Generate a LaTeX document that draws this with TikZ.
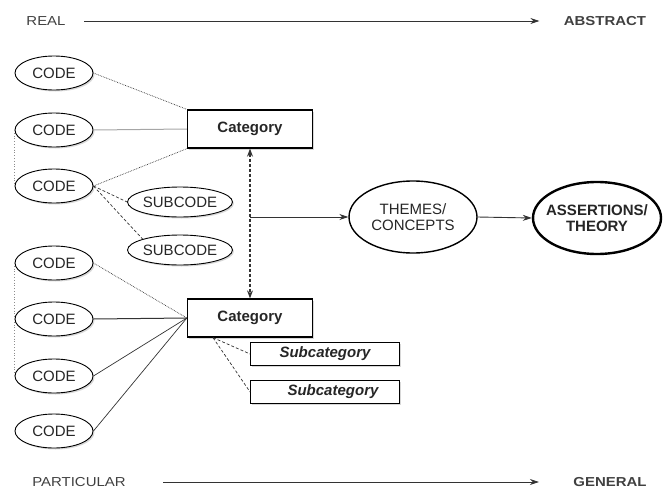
\documentclass[tikz,border=0pt]{standalone}
\usepackage{fontspec}
\setmainfont{Liberation Sans}
\newfontfamily\axisfont[FakeStretch=1.15]{Liberation Sans}
\usetikzlibrary{arrows.meta,shapes.geometric,shadows}

\tikzset{
  shade/.style={drop shadow={shadow xshift=1.5pt,shadow yshift=-1.5pt,fill=black!30}},
  codenode/.style={ellipse, draw, line width=0.9pt, fill=white, inner sep=0pt,
    minimum width=78pt, minimum height=34pt, text=black!85,
    font=\fontsize{15}{16}\selectfont, shade},
  subcodenode/.style={codenode, minimum width=96pt, minimum height=30pt},
  catbox/.style={rectangle, draw, line width=1.3pt, fill=white, minimum width=125pt,
    minimum height=38pt, text=black!85, font=\fontsize{15}{16}\selectfont\bfseries, shade},
  subcat/.style={rectangle, draw, line width=0.8pt, fill=white, minimum width=149pt,
    minimum height=23pt, text=black!85, font=\fontsize{15}{16}\selectfont\bfseries\itshape, shade},
  idea/.style={ellipse, draw, line width=1.4pt, fill=white, inner sep=0pt, align=center,
    minimum width=128pt, minimum height=72pt, text=black!85, font=\fontsize{15}{16}\selectfont},
  axislabel/.style={text=black!75, font=\axisfont\fontsize{13}{15}\selectfont},
  link/.style={line width=0.7pt, black!80},
  tip/.style={-{Stealth[length=9pt,width=6pt]}}
}

\begin{document}
\begin{tikzpicture}[x=1pt,y=-1pt]
\useasboundingbox (0,0) rectangle (664,490);
% real -> abstract, particular -> general
\node[axislabel] (real) at (46,21) {REAL};
\node[axislabel,font=\axisfont\fontsize{13}{15}\selectfont\bfseries] (abstract) at (605,21) {ABSTRACT};
\node[axislabel] (particular) at (79,482) {PARTICULAR};
\node[axislabel,font=\axisfont\fontsize{13}{15}\selectfont\bfseries] (general) at (610,482) {GENERAL};
\draw[link,tip] ([xshift=15pt]real.east) -- ([xshift=-21pt]abstract.west);
\draw[link,tip] ([xshift=34pt]particular.east) -- ([xshift=-31pt]general.west);

% codes
\node[codenode] (c1) at (54,73) {CODE};
\node[codenode] (c2) at (54,130) {CODE};
\node[codenode] (c3) at (54,186) {CODE};
\node[codenode] (c4) at (54,263) {CODE};
\node[codenode] (c5) at (54,319) {CODE};
\node[codenode] (c6) at (54,376) {CODE};
\node[codenode] (c7) at (54,431) {CODE};
\node[subcodenode] (s1) at (180,202) {SUBCODE};
\node[subcodenode] (s2) at (180,250) {SUBCODE};

% categories
\node[catbox] (cat1) at (250,129) {Category};
\node[catbox] (cat2) at (250,318) {Category};
\node[subcat] (sub1) at (325,354) {Subcategory};
\node[subcat] (sub2) at (325,392) {\hspace*{16pt}Subcategory};
\coordinate (catfoot) at ([xshift=-37pt]cat2.south);

% themes and theory
\node[idea] (themes) at (413,217) {THEMES/\\CONCEPTS};
\node[idea,line width=2.4pt,inner xsep=-12pt,font=\fontsize{15}{16}\selectfont\bfseries] (theory) at (597,218) {ASSERTIONS/\\THEORY};
\coordinate (hub) at (cat1.south |- themes.west);

\path[link]
(c1.east) edge[densely dotted] (cat1.north west)
(c2.east) edge[black!35,line width=1pt] (cat1.west)
(c3.east) edge[densely dotted] (cat1.south west)
          edge[densely dashed] (s1.west)
          edge[densely dashed] (s2.north west)
(c4.east) edge[densely dotted] (cat2.west)
(c5.east) edge[line width=1pt] (cat2.west)
(c6.east) edge (cat2.west)
(c7.east) edge (cat2.west)
(catfoot) edge[densely dashed] (sub1.west)
          edge[densely dashed] (sub2.west);
\draw[black!45,dotted,line width=0.8pt] (c2.west) -- (c3.west);
\draw[black!45,dotted,line width=0.8pt] (c4.west) -- (c6.west);

\draw[link,line width=1.1pt,densely dashed,{Stealth[length=8pt,width=6pt]}-{Stealth[length=8pt,width=6pt]}] (cat1.south) -- (cat2.north);
\draw[link,line width=0.9pt,tip] (hub) -- (themes.west);
\draw[link,line width=0.9pt,tip] (themes.east) -- (theory.west);
%\draw[link,tip] (theory.south) -- (general.north);
\end{tikzpicture}
\end{document}
